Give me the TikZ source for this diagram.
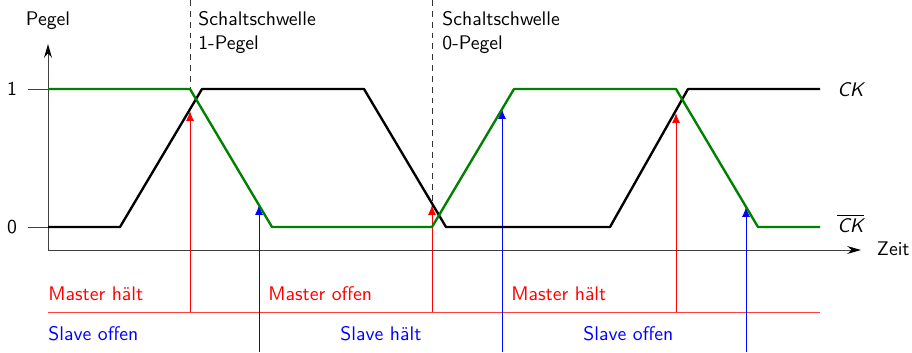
\documentclass[tikz,border=0pt]{standalone}
\usetikzlibrary{arrows.meta}
\definecolor{ckgreen}{RGB}{0,128,0}
\begin{document}
\begin{tikzpicture}[x=0.5076pt,y=-0.5076pt,font=\sffamily,
  axis/.style={line width=0.5pt,black!75,-{Stealth[length=7pt,width=4pt,black]}},
  tickline/.style={line width=0.4pt,black!75},
  clk/.style={line width=1.2pt,line join=round},
  thresh/.style={line width=0.4pt,dashed,dash pattern=on 3pt off 2.5pt,black!80},
  mline/.style={line width=0.5pt,red!75},
  sline/.style={line width=0.5pt,blue!70},
  marrow/.style={mline,-{Latex[length=5pt,width=4pt]},red},
  sarrow/.style={sline,-{Latex[length=5pt,width=4pt]},blue},
  lbl/.style={inner sep=0pt,anchor=base west}]
\useasboundingbox (0,0) rectangle (912,352);
% axes
\coordinate (o) at (48,250);
\coordinate (ytop) at (48,44);
\coordinate (xend) at (861,250);
\draw[axis] (o) -- (ytop);
\draw[axis] (o) -- (xend);
\node (pegel) at (48,21) {Pegel};
\node (zeit) [anchor=west] at (870,249) {Zeit};
% ticks
\coordinate (t1a) at (28,89); \coordinate (t1b) at (48,89);
\coordinate (t0a) at (28,227); \coordinate (t0b) at (48,227);
\draw[tickline] (t1a) -- (t1b);
\draw[tickline] (t0a) -- (t0b);
\node (one) [anchor=east] at (24,89) {1};
\node (zero) [anchor=east] at (24,227) {0};
% threshold lines
\coordinate (d1top) at (190,0); \coordinate (d1bot) at (190,89);
\coordinate (d2top) at (432,0); \coordinate (d2bot) at (432,206);
\draw[thresh] (d1top) -- (d1bot);
\draw[thresh] (d2top) -- (d2bot);
\node (s1a) [lbl] at (198,25) {Schaltschwelle};
\node (s1b) [lbl] at (198,49) {1-Pegel};
\node (s2a) [lbl] at (442,25) {Schaltschwelle};
\node (s2b) [lbl] at (442,49) {0-Pegel};
% master / slave lines
\coordinate (ml) at (48,312); \coordinate (mr) at (820,312);
\draw[mline] (ml) -- (mr);
\coordinate (m1b) at (190,312); \coordinate (m1t) at (190,111);
\coordinate (m2b) at (432,312); \coordinate (m2t) at (432,205);
\coordinate (m3b) at (676,312); \coordinate (m3t) at (676,113);
\draw[marrow] (m1b) -- (m1t);
\draw[marrow] (m2b) -- (m2t);
\draw[marrow] (m3b) -- (m3t);
\coordinate (s1b) at (259,352); \coordinate (s1t) at (259,205);
\coordinate (s2b) at (502,352); \coordinate (s2t) at (502,109);
\coordinate (s3b) at (746,352); \coordinate (s3t) at (746,207);
\draw[sarrow] (s1b) -- (s1t);
\draw[sarrow] (s2b) -- (s2t);
\draw[sarrow] (s3b) -- (s3t);
% clock signals
\draw[clk,black] (48,227) -- (120,227) -- (202,89) -- (364,89) -- (446,227) -- (610,227) -- (688,89) -- (820,89);
\draw[clk,ckgreen] (48,89) -- (190,89) -- (272,227) -- (432,227) -- (514,89) -- (676,89) -- (758,227) -- (820,227);
\node (ck) [lbl] at (837,96) {\textit{CK}};
\node (ckb) [lbl] at (837,232) {\textit{$\overline{\mbox{\textit{CK}}}$}};
% labels
\node (mh1) [lbl,red] at (48,300) {Master hält};
\node (mo1) [lbl,red] at (268,300) {Master offen};
\node (mh2) [lbl,red] at (511,300) {Master hält};
\node (so1) [lbl,blue] at (48,340) {Slave offen};
\node (sh1) [lbl,blue] at (340,340) {Slave hält};
\node (so2) [lbl,blue] at (583,340) {Slave offen};
\end{tikzpicture}
\end{document}
